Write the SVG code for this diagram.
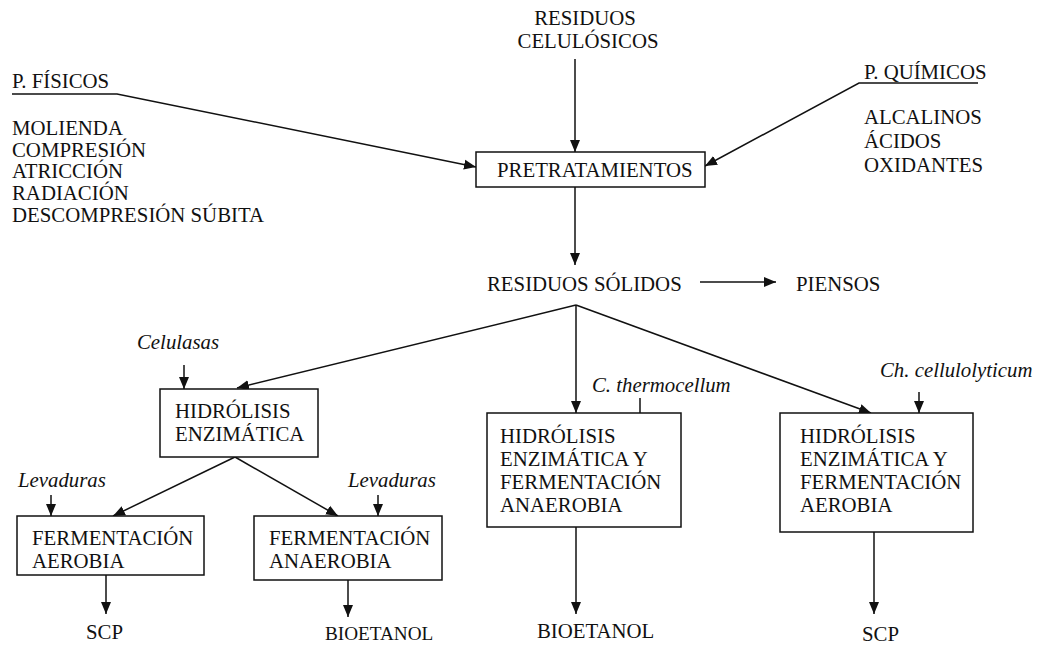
<svg xmlns="http://www.w3.org/2000/svg" width="1037" height="645" viewBox="0 0 1037 645">
<style>
text{font-family:"Liberation Serif","Times New Roman",serif;font-size:20.8px;fill:#111}
.it{font-style:italic}
.sm{font-size:19.2px}
.box{fill:#fff;stroke:#111;stroke-width:1.5}
.ln{fill:none;stroke:#111;stroke-width:1.5}
.ar{fill:none;stroke:#111;stroke-width:1.5;marker-end:url(#ah)}
</style>
<defs>
<marker id="ah" markerUnits="userSpaceOnUse" markerWidth="12" markerHeight="12" viewBox="0 0 12 12" refX="12" refY="6" orient="auto">
<path d="M0,1 L12,6 L0,11 Z" fill="#111"/>
</marker>
</defs>
<g id="connectors">
<line class="ar" x1="575" y1="59" x2="575" y2="152"/>
<polyline class="ar" points="12,94 117,94 476,167"/>
<polyline class="ar" points="978,83 859,83 705,166"/>
<line class="ar" x1="575" y1="187" x2="575" y2="265"/>
<line class="ar" x1="700" y1="282" x2="776" y2="282"/>
<line class="ar" x1="576" y1="305" x2="237" y2="388"/>
<line class="ar" x1="576" y1="305" x2="576" y2="413"/>
<line class="ar" x1="576" y1="305" x2="871" y2="413"/>
<line class="ln" x1="640" y1="398" x2="640" y2="413"/>
<line class="ar" x1="919" y1="392" x2="919" y2="413"/>
<line class="ar" x1="184" y1="365" x2="184" y2="389"/>
<line class="ar" x1="235" y1="457" x2="113" y2="516"/>
<line class="ar" x1="235" y1="457" x2="338" y2="516"/>
<line class="ar" x1="51" y1="495" x2="51" y2="516"/>
<line class="ar" x1="378" y1="495" x2="378" y2="516"/>
<line class="ar" x1="106" y1="575" x2="106" y2="614"/>
<line class="ar" x1="348" y1="580" x2="348" y2="617"/>
<line class="ar" x1="576" y1="527" x2="576" y2="614"/>
<line class="ar" x1="874" y1="532" x2="874" y2="614"/>
</g>
<g id="residuos-celulosicos">
<text x="585" y="25" text-anchor="middle">RESIDUOS</text>
<text x="588" y="48" text-anchor="middle">CELULÓSICOS</text>
</g>
<g id="p-fisicos">
<text x="12" y="88">P. FÍSICOS</text>
<text x="12" y="135">MOLIENDA</text>
<text x="12" y="157">COMPRESIÓN</text>
<text x="12" y="178">ATRICCIÓN</text>
<text x="12" y="200">RADIACIÓN</text>
<text x="12" y="222">DESCOMPRESIÓN SÚBITA</text>
</g>
<g id="p-quimicos">
<text x="864" y="79">P. QUÍMICOS</text>
<text x="864" y="124">ALCALINOS</text>
<text x="864" y="148">ÁCIDOS</text>
<text x="864" y="172">OXIDANTES</text>
</g>
<g id="pretratamientos">
<rect class="box" x="476" y="152" width="229" height="35"/>
<text x="497" y="177">PRETRATAMIENTOS</text>
</g>
<g id="residuos-solidos">
<text x="487" y="291">RESIDUOS SÓLIDOS</text>
</g>
<g id="piensos">
<text x="796" y="291">PIENSOS</text>
</g>
<g id="celulasas">
<text class="it" x="137" y="349">Celulasas</text>
</g>
<g id="hidrolisis-enzimatica">
<rect class="box" x="160" y="389" width="158" height="68"/>
<text x="175" y="418">HIDRÓLISIS</text>
<text x="175" y="441">ENZIMÁTICA</text>
</g>
<g id="c-thermocellum">
<text class="it" x="592" y="392">C. thermocellum</text>
</g>
<g id="hidrolisis-anaerobia">
<rect class="box" x="487" y="413" width="194" height="114"/>
<text x="500" y="443">HIDRÓLISIS</text>
<text x="500" y="466">ENZIMÁTICA Y</text>
<text x="500" y="489">FERMENTACIÓN</text>
<text x="500" y="512">ANAEROBIA</text>
</g>
<g id="ch-cellulolyticum">
<text class="it" x="880" y="377">Ch. cellulolyticum</text>
</g>
<g id="hidrolisis-aerobia">
<rect class="box" x="780" y="413" width="193" height="119"/>
<text x="800" y="443">HIDRÓLISIS</text>
<text x="800" y="466">ENZIMÁTICA Y</text>
<text x="800" y="489">FERMENTACIÓN</text>
<text x="800" y="512">AEROBIA</text>
</g>
<g id="levaduras-1">
<text class="it" x="18" y="487">Levaduras</text>
</g>
<g id="levaduras-2">
<text class="it" x="348" y="487">Levaduras</text>
</g>
<g id="fermentacion-aerobia">
<rect class="box" x="17" y="516" width="187" height="59"/>
<text x="32" y="545">FERMENTACIÓN</text>
<text x="32" y="568">AEROBIA</text>
</g>
<g id="fermentacion-anaerobia">
<rect class="box" x="254" y="516" width="188" height="64"/>
<text x="269" y="545">FERMENTACIÓN</text>
<text x="269" y="568">ANAEROBIA</text>
</g>
<g id="scp-1"><text x="86" y="639">SCP</text></g>
<g id="bioetanol-1"><text class="sm" x="325" y="640">BIOETANOL</text></g>
<g id="bioetanol-2"><text x="537" y="638">BIOETANOL</text></g>
<g id="scp-2"><text x="862" y="641">SCP</text></g>
</svg>
